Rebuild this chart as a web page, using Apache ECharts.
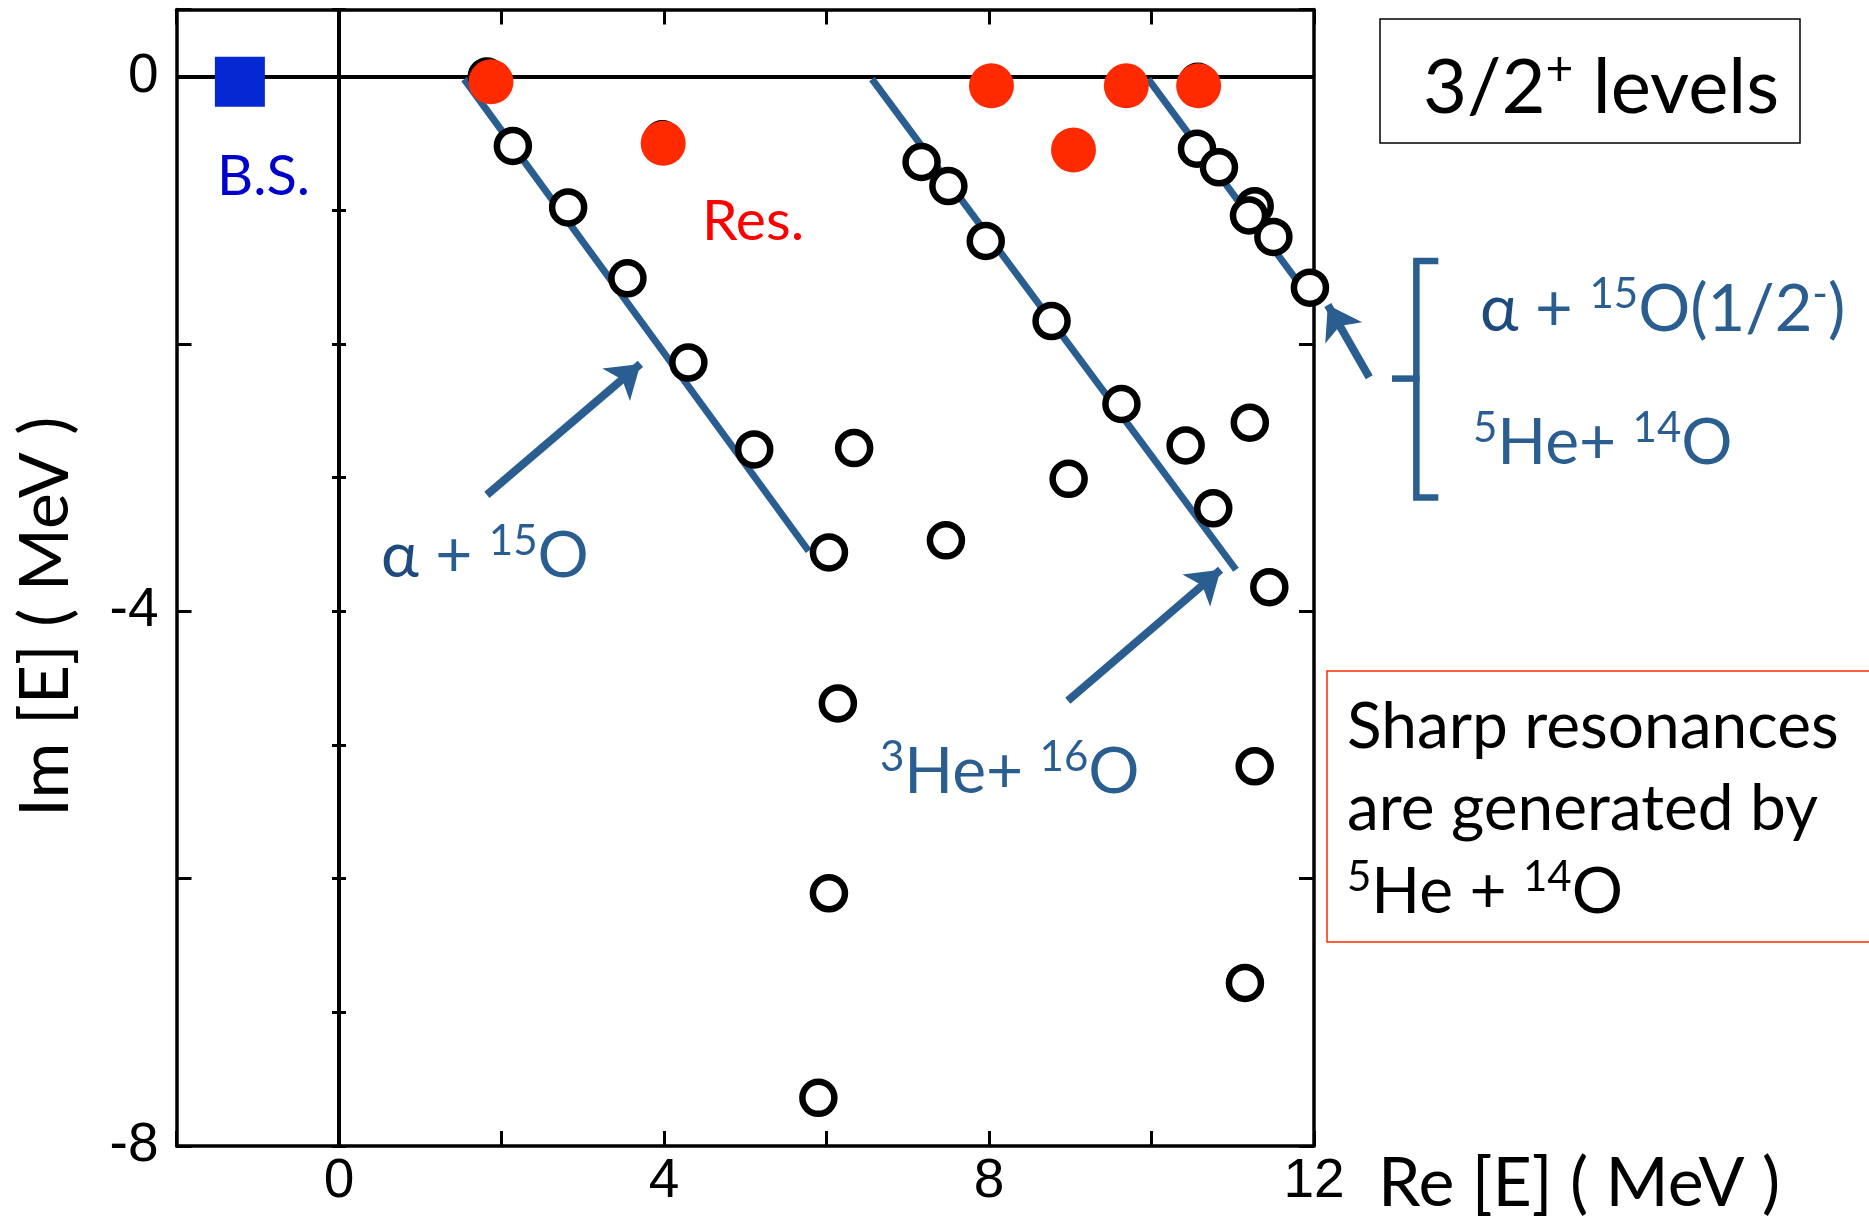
<!DOCTYPE html>
<html><head><meta charset="utf-8">
<script src="https://cdn.jsdelivr.net/npm/echarts@6/dist/echarts.min.js"></script>
<style>html,body{margin:0;padding:0;background:#fff}#c{width:1869px;height:1218px}</style>
</head><body><div id="c"></div>
<script>
// ---- data (Re[E], Im[E]) in MeV ----
const xTickLabels = [0, 4, 8, 12];
const yTickLabels = [0, -4, -8];
const boundState = [[-1.22, -0.04]];
const resonances = [[1.87, -0.04], [3.99, -0.50], [8.03, -0.07], [9.04, -0.55], [9.69, -0.07], [10.58, -0.07]];
const continuum = [
  [1.82, 0.0], [3.98, -0.47], [10.57, -0.04],
  [2.14, -0.52], [2.82, -0.98], [3.55, -1.51], [4.30, -2.14], [5.11, -2.79], [6.03, -3.56],
  [6.34, -2.78], [7.47, -3.47], [6.14, -4.69], [6.03, -6.11], [5.90, -7.64],
  [7.17, -0.64], [7.50, -0.82], [7.96, -1.23], [8.77, -1.83], [9.63, -2.45], [8.98, -3.01],
  [10.42, -2.76], [10.76, -3.23], [11.21, -2.59], [11.45, -3.82], [11.27, -5.16], [11.15, -6.78],
  [10.56, -0.54], [10.83, -0.68], [11.27, -0.97], [11.20, -1.04], [11.50, -1.20], [11.95, -1.58]
];
const alphaBranch = [[1.54, -0.02], [5.78, -3.55]];
const he3Branch = [[6.56, -0.02], [11.04, -3.69]];
const alphaStarBranch = [[9.96, -0.02], [11.83, -1.56]];
const arrowAlpha = [[1.82, -3.13], [3.71, -2.15]];
const arrowHe3 = [[8.97, -4.67], [10.85, -3.69]];
const arrowBracket = [[12.68, -2.25], [12.17, -1.71]];
const bracket = [[13.49, -1.38], [13.26, -1.38], [13.26, -3.15], [13.49, -3.15]];
const bracketTip = [[13.26, -2.26], [13.0, -2.26]];

const BLUE = '#2b5e90';
const ALPHA = '#1f4a7d';
const chart = echarts.init(document.getElementById('c'), null, {renderer: 'canvas'});

function richBlue(main, sup) {
  return {
    a: {fill: ALPHA, fontFamily: 'Lato', fontSize: main, lineHeight: main + 8},
    m: {fill: BLUE, fontFamily: 'Lato', fontSize: main, lineHeight: main + 8},
    s: {fill: BLUE, fontFamily: 'Lato', fontSize: sup, lineHeight: sup, verticalAlign: 'top'}
  };
}
function txt(x, y, text, rich) {
  return {type: 'text', silent: true, z: 50,
    style: {x: x, y: y, text: text, rich: rich, align: 'left', verticalAlign: 'middle'}};
}
function plain(x, y, text, size, color) {
  return {type: 'text', silent: true, z: 50,
    style: {x: x, y: y, text: text, fill: color, font: size + 'px Lato', align: 'left', verticalAlign: 'middle'}};
}

const xBase = {type: 'value', min: -2, max: 12, interval: 2, splitLine: {show: false}};
const yBase = {type: 'value', min: -8, max: 0.5, splitLine: {show: false}};
const axLine = {show: true, onZero: false, lineStyle: {color: '#000', width: 3.5}};

const option = {
  animation: false,
  backgroundColor: '#fff',
  grid: {left: 176.5, right: 555, top: 9.6, bottom: 72, show: false, containLabel: false, outerBoundsMode: 'none'},
  xAxis: [
    Object.assign({}, xBase, {
      position: 'bottom', axisLine: axLine,
      axisTick: {show: true, inside: true, length: 15, lineStyle: {color: '#000', width: 3}},
      axisLabel: {formatter: v => xTickLabels.includes(v) ? String(v) : '', fontFamily: 'Liberation Sans', fontSize: 55, color: '#000', margin: 8},
      name: 'Re [E] ( MeV )', nameLocation: 'end', nameGap: 64,
      nameTextStyle: {fontFamily: 'Lato', fontSize: 68, color: '#000', align: 'left', verticalAlign: 'top', padding: [4, 0, 0, 0]}
    }),
    Object.assign({}, xBase, {
      position: 'top', axisLine: axLine,
      axisTick: {show: true, inside: true, length: 15, lineStyle: {color: '#000', width: 3}},
      axisLabel: {show: false}
    })
  ],
  yAxis: [
    Object.assign({}, yBase, {
      position: 'left', interval: 2, axisLine: axLine,
      axisTick: {show: true, inside: true, length: 15, lineStyle: {color: '#000', width: 3}},
      axisLabel: {formatter: v => yTickLabels.includes(v) ? String(v) : '', fontFamily: 'Liberation Sans', fontSize: 55, color: '#000', margin: 18},
      name: 'Im [E] ( MeV )', nameLocation: 'middle', nameRotate: 90, nameGap: 96,
      nameTextStyle: {fontFamily: 'Lato', fontSize: 68, color: '#000', padding: [0, 78, 0, 0]}
    }),
    Object.assign({}, yBase, {
      position: 'left', interval: 1, axisLine: {show: false},
      axisTick: {show: true, inside: true, length: 7, lineStyle: {color: '#000', width: 3}},
      axisLabel: {show: false}
    }),
    Object.assign({}, yBase, {
      position: 'right', interval: 2, axisLine: axLine,
      axisTick: {show: true, inside: true, length: 15, lineStyle: {color: '#000', width: 3}},
      axisLabel: {show: false}
    }),
    Object.assign({}, yBase, {
      position: 'right', interval: 1, axisLine: {show: false},
      axisTick: {show: true, inside: true, length: 7, lineStyle: {color: '#000', width: 3}},
      axisLabel: {show: false}
    })
  ],
  series: [
    {type: 'line', name: 'alpha + 15O', data: alphaBranch, symbol: 'none', z: 2, silent: true,
     lineStyle: {color: BLUE, width: 7},
     markLine: {silent: true, symbol: 'none', label: {show: false}, z: 1,
       lineStyle: {color: '#000', width: 4, type: 'solid'},
       data: [{xAxis: 0}, {yAxis: 0}]}},
    {type: 'line', name: '3He + 16O', data: he3Branch, symbol: 'none', z: 2, silent: true, lineStyle: {color: BLUE, width: 7}},
    {type: 'line', name: 'alpha + 15O(1/2-)', data: alphaStarBranch, symbol: 'none', z: 2, silent: true, lineStyle: {color: BLUE, width: 7}},
    {type: 'lines', coordinateSystem: 'cartesian2d', z: 2, silent: true, clip: false,
     symbol: ['none', 'arrow'], symbolSize: 32,
     lineStyle: {color: BLUE, width: 8, opacity: 1},
     data: [{coords: arrowAlpha}, {coords: arrowHe3}, {coords: arrowBracket}]},
    {type: 'lines', coordinateSystem: 'cartesian2d', polyline: true, z: 2, silent: true, clip: false,
     symbol: 'none', lineStyle: {color: BLUE, width: 6.5, opacity: 1, cap: 'square'},
     data: [{coords: bracket}, {coords: bracketTip}]},
    {type: 'scatter', name: 'continuum', data: continuum, symbol: 'circle', symbolSize: 32, z: 3, clip: false, silent: true,
     itemStyle: {color: '#fff', borderColor: '#000', borderWidth: 6.5, opacity: 1}},
    {type: 'scatter', name: 'Res.', data: resonances, symbol: 'circle', symbolSize: 45, z: 4, clip: false, silent: true,
     itemStyle: {color: '#ff2a00', opacity: 1}},
    {type: 'scatter', name: 'B.S.', data: boundState, symbol: 'rect', symbolSize: 50, z: 4, clip: false, silent: true,
     itemStyle: {color: '#0628d2', opacity: 1}}
  ],
  graphic: [
    plain(217, 177, 'B.S.', 56, '#0000cc'),
    plain(702, 222, 'Res.', 57, '#ff0000'),
    txt(381, 556, '{a|α}{m| + }{s|15}{m|O}', richBlue(64, 42)),
    txt(880, 772, '{s|3}{m|He+ }{s|16}{m|O}', richBlue(64, 42)),
    txt(1480, 310, '{a|α}{m| + }{s|15}{m|O(1/2}{s|-}{m|)}', richBlue(65, 42)),
    txt(1473, 443, '{s|5}{m|He+ }{s|14}{m|O}', richBlue(64, 42)),
    {type: 'rect', silent: true, z: 50, shape: {x: 1380, y: 19, width: 420, height: 124},
     style: {fill: 'none', stroke: '#000', lineWidth: 1.5}},
    txt(1423, 88, '{m|3/2}{s|+}{m| levels}', {
      m: {fill: '#000', fontFamily: 'Lato', fontSize: 76, lineHeight: 84},
      s: {fill: '#000', fontFamily: 'Lato', fontSize: 48, lineHeight: 48, verticalAlign: 'top'}}),
    {type: 'rect', silent: true, z: 50, shape: {x: 1327, y: 671, width: 560, height: 271},
     style: {fill: 'none', stroke: '#ff2a00', lineWidth: 1.5}},
    plain(1347, 727, 'Sharp resonances', 64, '#000'),
    plain(1347, 809, 'are generated by', 64, '#000'),
    txt(1347, 892, '{s|5}{m|He + }{s|14}{m|O}', {
      m: {fill: '#000', fontFamily: 'Lato', fontSize: 64, lineHeight: 72},
      s: {fill: '#000', fontFamily: 'Lato', fontSize: 42, lineHeight: 42, verticalAlign: 'top'}})
  ]
};
chart.setOption(option);
</script>
</body></html>
